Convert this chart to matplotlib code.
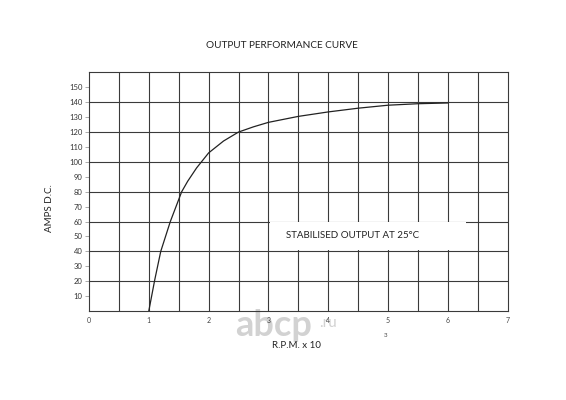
import numpy as np
import matplotlib
matplotlib.use("Agg")
import matplotlib.pyplot as plt
from matplotlib.patches import Rectangle

# curve (rpm x 10^3, amps)
rpm = [1.0, 1.1, 1.2, 1.36, 1.55, 1.65, 1.8, 2.0, 2.25, 2.5, 2.75, 3.0, 3.5, 4.0, 4.5, 5.0, 5.5, 6.0]
amps = [0, 21, 40, 60, 80, 87, 96, 106, 114, 120, 123.5, 126.5, 130.5, 133.5, 136, 138, 139, 139.5]

x_ticks = [0, 1, 2, 3, 4, 5, 6, 7]
y_ticks = [10, 20, 30, 40, 50, 60, 70, 80, 90, 100, 110, 120, 130, 140, 150]

plt.rcParams["font.family"] = ["Lato", "DejaVu Sans"]

fig = plt.figure(figsize=(5.66, 4.0), dpi=100)
ax = fig.add_axes([0.1572, 0.2225, 0.7398, 0.5965])
ax.patch.set_alpha(0)

ax.set_xlim(0, 7)
ax.set_ylim(0, 160)

gc = "#3a3a3a"
for xv in np.arange(0.5, 7, 0.5):
    ax.axvline(xv, color=gc, lw=0.8, zorder=1)
for yv in range(20, 160, 20):
    ax.axhline(yv, color=gc, lw=0.8, zorder=1)
for s in ax.spines.values():
    s.set_color(gc)
    s.set_linewidth(0.8)

# white band behind the note
ax.add_patch(Rectangle((3.03, 40.6), 3.27, 18.8, facecolor="white",
                       edgecolor="none", zorder=2))
ax.text(3.3, 50.5, "STABILISED OUTPUT AT 25°C", fontsize=7, color="#222222",
        va="center", ha="left", zorder=3)

ax.plot(rpm, amps, color="#222222", lw=0.9, zorder=4)

ax.set_xticks(x_ticks)
ax.set_xticklabels([str(v) for v in x_ticks], fontsize=5, color="#444444")
ax.set_yticks(y_ticks)
ax.set_yticklabels([str(v) for v in y_ticks], fontsize=5.5, color="#333333")
ax.tick_params(axis="x", length=0, pad=4)
ax.tick_params(axis="y", length=3, width=0.5, color="#888888", pad=1.5)

fig.text(0.498, 0.887, "OUTPUT PERFORMANCE CURVE", fontsize=7.2, color="#222222",
         ha="center", va="center")
fig.text(0.088, 0.48, "AMPS D.C.", fontsize=7, color="#222222",
         rotation=90, ha="center", va="center")
fig.text(0.524, 0.135, "R.P.M. x 10", fontsize=7, color="#222222",
         ha="center", va="center")
fig.text(0.682, 0.162, "3", fontsize=4.5, color="#444444", ha="center", va="center")

# watermark, behind the chart
fig.text(0.415, 0.185, "abcp", fontsize=26, fontweight="bold", color="#d2d2d2",
         ha="left", va="center", zorder=-1)
fig.text(0.563, 0.192, ".ru", fontsize=11, color="#d2d2d2",
         ha="left", va="center", zorder=-1)

fig.savefig("out.png", dpi=100)
